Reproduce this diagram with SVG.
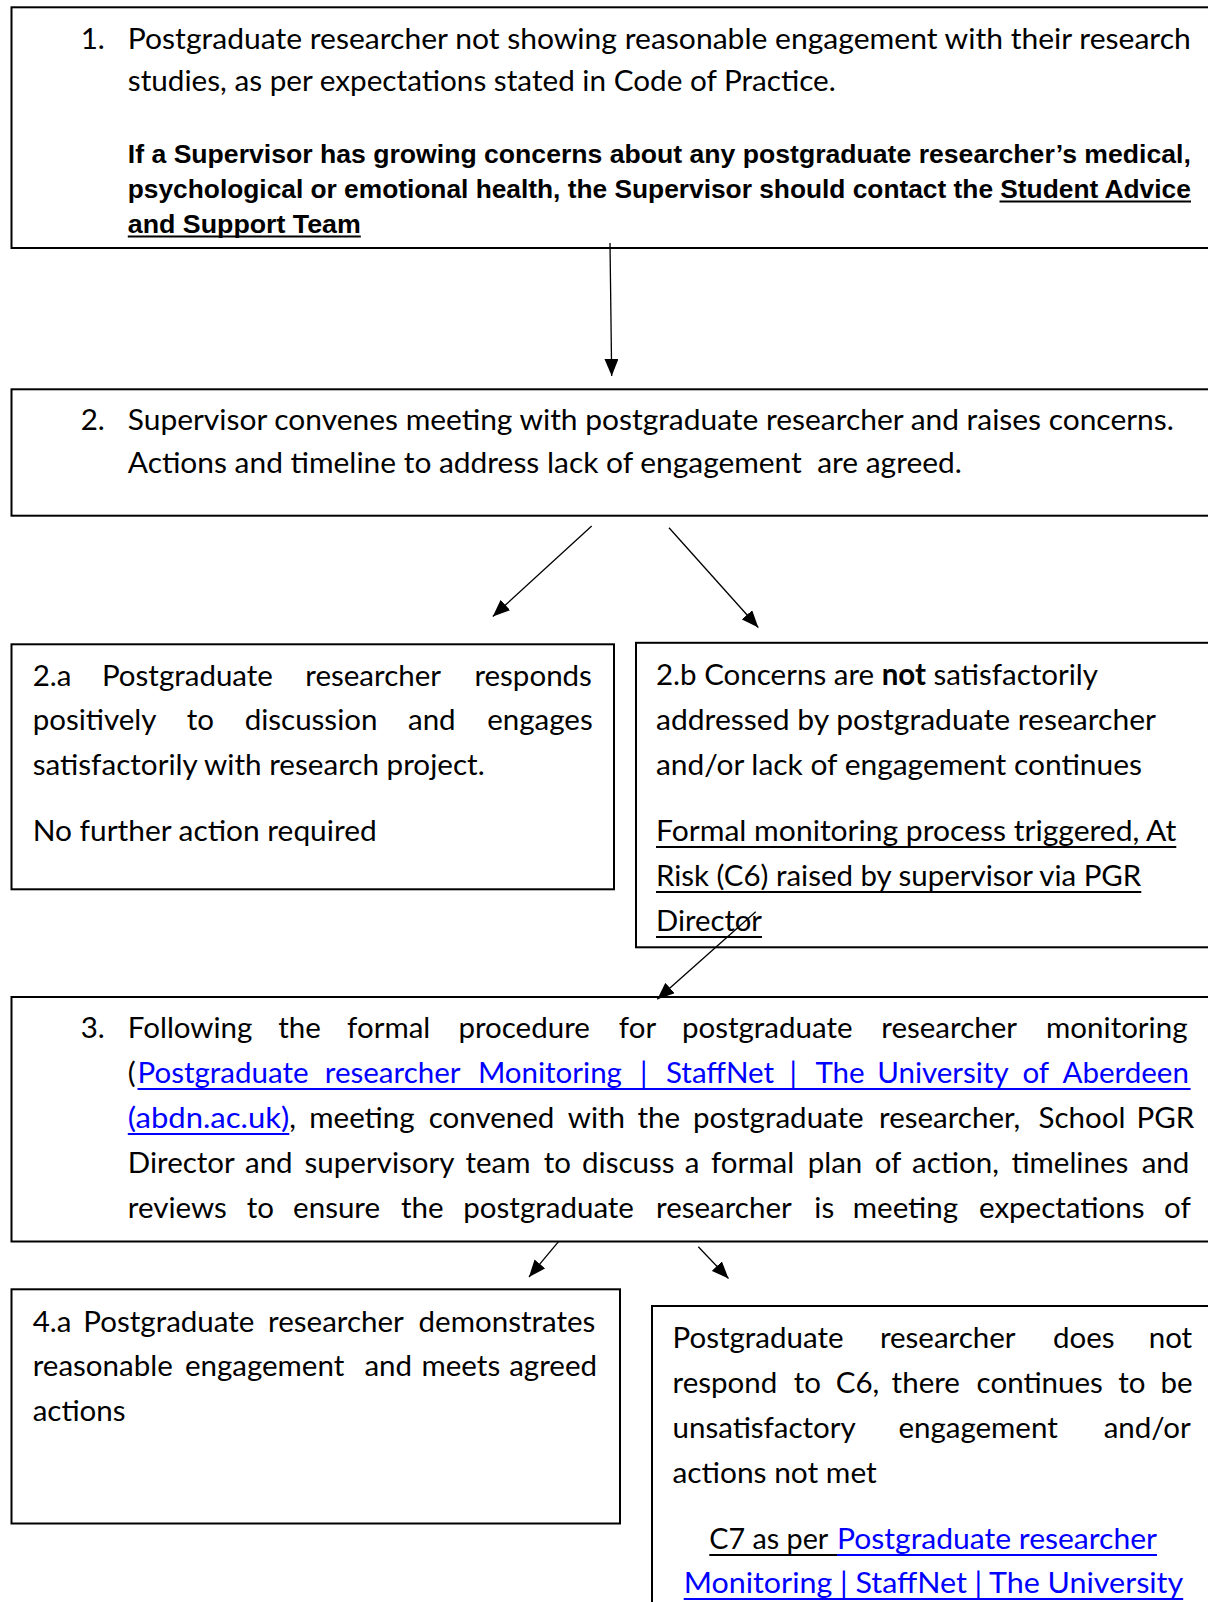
<svg xmlns="http://www.w3.org/2000/svg" width="1208" height="1602" viewBox="0 0 1208 1602">
<defs>
<style>
.b{fill:#fff;stroke:#000;stroke-width:2}
.t{font-family:Lato,'Open Sans',sans-serif;font-size:29.5px;fill:#000}
.k{font-family:'Liberation Sans',Arial,sans-serif;font-weight:bold;font-size:26.4px;fill:#000}
.l{fill:#0000FF}
.u{stroke:#000;stroke-width:2.2}
.ub{stroke:#0000FF;stroke-width:2.2}
.c{stroke:#000;stroke-width:1.3;fill:none;marker-end:url(#ah)}
</style>
<marker id="ah" markerUnits="userSpaceOnUse" markerWidth="18" markerHeight="14" refX="17" refY="7" orient="auto">
<path d="M0,0 L17,7 L0,14 z" fill="#000"/>
</marker>
</defs>
<rect width="1208" height="1602" fill="#fff"/>

<g id="node1">
<rect class="b" x="11.5" y="7.3" width="1210" height="240.7"/>
<text class="t" x="80.7" y="49">1.</text>
<text class="t" x="127.8" y="49" textLength="1063" lengthAdjust="spacingAndGlyphs">Postgraduate researcher not showing reasonable engagement with their research</text>
<text class="t" x="127.8" y="91" textLength="708" lengthAdjust="spacingAndGlyphs">studies, as per expectations stated in Code of Practice.</text>
<text class="k" x="127.8" y="163" textLength="1063" lengthAdjust="spacingAndGlyphs">If a Supervisor has growing concerns about any postgraduate researcher’s medical,</text>
<text class="k" x="127.8" y="198" textLength="1063" lengthAdjust="spacingAndGlyphs">psychological or emotional health, the Supervisor should contact the Student Advice</text>
<text class="k" x="127.8" y="233" textLength="233" lengthAdjust="spacingAndGlyphs">and Support Team</text>
<line class="u" x1="999.5" y1="201.5" x2="1191" y2="201.5"/>
<line class="u" x1="127.8" y1="236.5" x2="360.8" y2="236.5"/>
</g>

<g id="node2">
<rect class="b" x="11.5" y="389.3" width="1210" height="126.4"/>
<text class="t" x="80.7" y="430">2.</text>
<text class="t" x="127.8" y="430" textLength="1046" lengthAdjust="spacingAndGlyphs">Supervisor convenes meeting with postgraduate researcher and raises concerns.</text>
<text class="t" x="127.8" y="473" textLength="834" lengthAdjust="spacingAndGlyphs" style="white-space:pre">Actions and timeline to address lack of engagement  are agreed.</text>
</g>

<g id="node2a">
<rect class="b" x="11.5" y="644.3" width="602.5" height="245"/>
<text class="t" y="685.5"><tspan x="32.7">2.a</tspan><tspan x="101.9">Postgraduate</tspan><tspan x="305.3">researcher</tspan><tspan x="474.4">responds</tspan></text>
<text class="t" y="729.5"><tspan x="32.7">positively</tspan><tspan x="186.8">to</tspan><tspan x="244.7">discussion</tspan><tspan x="408">and</tspan><tspan x="487.2">engages</tspan></text>
<text class="t" x="32.7" y="774.5" textLength="452" lengthAdjust="spacingAndGlyphs">satisfactorily with research project.</text>
<text class="t" x="32.7" y="841" textLength="344" lengthAdjust="spacingAndGlyphs">No further action required</text>
</g>

<g id="node2b">
<rect class="b" x="636" y="642.8" width="600" height="304.5"/>
<text class="t" x="656" y="684.5" textLength="442" lengthAdjust="spacingAndGlyphs">2.b Concerns are <tspan font-weight="bold">not</tspan> satisfactorily</text>
<text class="t" x="656" y="729.5" textLength="500" lengthAdjust="spacingAndGlyphs">addressed by postgraduate researcher</text>
<text class="t" x="656" y="774.5" textLength="486" lengthAdjust="spacingAndGlyphs">and/or lack of engagement continues</text>
<text class="t" x="656" y="841" textLength="520.3" lengthAdjust="spacingAndGlyphs">Formal monitoring process triggered, At</text>
<text class="t" x="656" y="886" textLength="485.3" lengthAdjust="spacingAndGlyphs">Risk (C6) raised by supervisor via PGR</text>
<text class="t" x="656" y="931" textLength="106" lengthAdjust="spacingAndGlyphs">Director</text>
<line class="u" x1="656" y1="847" x2="1176.3" y2="847"/>
<line class="u" x1="656" y1="892" x2="1141.3" y2="892"/>
<line class="u" x1="656" y1="937" x2="762" y2="937"/>
</g>

<g id="node3">
<rect class="b" x="11.5" y="997" width="1210" height="244.5"/>
<text class="t" x="80.7" y="1038">3.</text>
<text class="t" y="1038"><tspan x="127.8">Following</tspan><tspan x="278.3">the</tspan><tspan x="347.1">formal</tspan><tspan x="458.4">procedure</tspan><tspan x="618.8">for</tspan><tspan x="681.9">postgraduate</tspan><tspan x="881.3">researcher</tspan><tspan x="1046.1">monitoring</tspan></text>
<text class="t" y="1083"><tspan x="127.8">(</tspan><tspan class="l" x="137.5">Postgraduate</tspan><tspan class="l" x="324.8">researcher</tspan><tspan class="l" x="477.9">Monitoring</tspan><tspan class="l" x="640">|</tspan><tspan class="l" x="666">StaffNet</tspan><tspan class="l" x="789.5">|</tspan><tspan class="l" x="815.4">The</tspan><tspan class="l" x="877.2">University</tspan><tspan class="l" x="1022.4">of</tspan><tspan class="l" x="1062.6">Aberdeen</tspan></text>
<line class="ub" x1="137.5" y1="1089" x2="1190.6" y2="1089"/>
<text class="t" y="1128"><tspan class="l" x="127.8" textLength="161.5" lengthAdjust="spacingAndGlyphs">(abdn.ac.uk)</tspan><tspan x="289.3">,</tspan><tspan x="309.3">meeting</tspan><tspan x="428.7">convened</tspan><tspan x="567.8">with</tspan><tspan x="637.5">the</tspan><tspan x="693">postgraduate</tspan><tspan x="879">researcher,</tspan><tspan x="1038.5">School</tspan><tspan x="1136.6">PGR</tspan></text>
<line class="ub" x1="127.8" y1="1134" x2="289.3" y2="1134"/>
<text class="t" y="1173"><tspan x="127.8">Director</tspan><tspan x="245">and</tspan><tspan x="304.6">supervisory</tspan><tspan x="465.4">team</tspan><tspan x="543.7">to</tspan><tspan x="582.1">discuss</tspan><tspan x="684.8">a</tspan><tspan x="710.9">formal</tspan><tspan x="807.7">plan</tspan><tspan x="874.7">of</tspan><tspan x="912.1">action,</tspan><tspan x="1011.4">timelines</tspan><tspan x="1141.7">and</tspan></text>
<text class="t" y="1218"><tspan x="127.8">reviews</tspan><tspan x="246.8">to</tspan><tspan x="293.1">ensure</tspan><tspan x="401">the</tspan><tspan x="463.3">postgraduate</tspan><tspan x="656">researcher</tspan><tspan x="814.3">is</tspan><tspan x="852.8">meeting</tspan><tspan x="979">expectations</tspan><tspan x="1164">of</tspan></text>
</g>

<g id="node4a">
<rect class="b" x="11.5" y="1289.3" width="608.5" height="234.2"/>
<text class="t" y="1331.5"><tspan x="32.7">4.a</tspan><tspan x="83.3">Postgraduate</tspan><tspan x="268.1">researcher</tspan><tspan x="418.6">demonstrates</tspan></text>
<text class="t" y="1376.4"><tspan x="32.7">reasonable</tspan><tspan x="184.9">engagement</tspan><tspan x="364.4">and</tspan><tspan x="421.5">meets</tspan><tspan x="509.2">agreed</tspan></text>
<text class="t" x="32.7" y="1421.4">actions</text>
</g>

<g id="node4b">
<rect class="b" x="652" y="1306" width="600" height="320"/>
<text class="t" y="1347.8"><tspan x="672.5">Postgraduate</tspan><tspan x="879.9">researcher</tspan><tspan x="1053">does</tspan><tspan x="1148.7">not</tspan></text>
<text class="t" y="1392.8"><tspan x="672.5">respond</tspan><tspan x="793.8">to</tspan><tspan x="835.8">C6,</tspan><tspan x="891.6">there</tspan><tspan x="976.6">continues</tspan><tspan x="1118.3">to</tspan><tspan x="1160.4">be</tspan></text>
<text class="t" y="1437.7"><tspan x="672.5">unsatisfactory</tspan><tspan x="898.4">engagement</tspan><tspan x="1103.7">and/or</tspan></text>
<text class="t" x="672.5" y="1482.7" textLength="204.3" lengthAdjust="spacingAndGlyphs">actions not met</text>
<text class="t" y="1549"><tspan x="709.3" textLength="119" lengthAdjust="spacingAndGlyphs">C7 as per</tspan><tspan class="l" x="837" textLength="320" lengthAdjust="spacingAndGlyphs">Postgraduate researcher</tspan></text>
<line class="u" x1="709.3" y1="1555" x2="837" y2="1555"/>
<line class="ub" x1="837" y1="1555" x2="1157" y2="1555"/>
<text class="t l" x="683.7" y="1593" textLength="499.5" lengthAdjust="spacingAndGlyphs">Monitoring | StaffNet | The University</text>
<line class="ub" x1="683.7" y1="1599" x2="1183.2" y2="1599"/>
</g>

<g id="connectors">
<line class="c" x1="610" y1="243" x2="611.7" y2="376"/>
<line class="c" x1="591.7" y1="526" x2="492.8" y2="616.5"/>
<line class="c" x1="669" y1="527.7" x2="758.3" y2="627.5"/>
<line class="c" x1="755.7" y1="911.7" x2="657.3" y2="999.3"/>
<line class="c" x1="558.5" y1="1241.7" x2="529" y2="1277"/>
<line class="c" x1="698.3" y1="1246.7" x2="728.5" y2="1278.5"/>
</g>
</svg>
